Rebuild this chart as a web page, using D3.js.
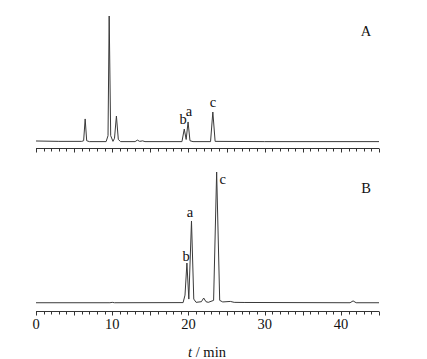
<!DOCTYPE html>
<html><head><meta charset="utf-8">
<script src="https://cdn.jsdelivr.net/npm/d3@7"></script>
<style>
html,body{margin:0;padding:0;background:#fff;}
svg{display:block;}
text{font-family:"Liberation Serif","Times New Roman",serif;fill:#111;}
</style></head>
<body>
<svg id="c" width="427" height="359"></svg>
<script>
// Trace A (time in min, relative signal)
const timeA = [0, 3, 6.0, 6.25, 6.45, 6.65, 7, 9.2, 9.45, 9.6, 9.8, 10.1, 10.3, 10.55, 10.8, 11.1, 13.0, 13.3, 13.6, 14.0, 14.3, 19.15, 19.45, 19.7, 19.95, 20.2, 20.6, 22.9, 23.2, 23.5, 30, 45];
const signalA = [0.8, 0.5, 0.5, 1, 18.3, 1, 0.3, 0.3, 5, 100, 5, 0.5, 3, 20.6, 2, 0.3, 0.3, 1.5, 0.5, 0.9, 0.3, 0.3, 10.3, 2, 15.9, 1, 0.3, 0.3, 23.8, 0.5, 0.3, 0.3];
// Trace B
const timeB = [0, 9.7, 10.0, 10.3, 19.3, 19.55, 19.8, 20.05, 20.4, 20.7, 21.0, 21.7, 22.0, 22.3, 22.6, 23.3, 23.7, 24.1, 24.5, 25.5, 26.0, 27.3, 41.2, 41.6, 42.0, 45];
const signalB = [0.2, 0.2, 0.5, 0.2, 0.3, 6, 30.5, 3, 62.6, 3, 0.5, 1, 3.8, 1, 0.5, 2, 100, 2, 0.8, 1.2, 0.5, 0.4, 0.2, 1.6, 0.2, 0.2];
// Peak labels (label anchor in data units: time, signal)
const peakLabelsA = [{t: 19.29, v: 13.9, s: "b"}, {t: 20.07, v: 21.0, s: "a"}, {t: 23.22, v: 27.4, s: "c"}];
const peakLabelsB = [{t: 19.68, v: 32.0, s: "b"}, {t: 20.2, v: 65.6, s: "a"}, {t: 24.5, v: 90.8, s: "c"}];
const panelLabels = ["A", "B"];
const tickLabels = [0, 10, 20, 30, 40];
const xDomain = [0, 45];
const xTitle = "min";

const svg = d3.select("#c");
const x = d3.scaleLinear().domain(xDomain).range([36, 379]);
const yA = d3.scaleLinear().domain([0, 100]).range([142, 16]);
const yB = d3.scaleLinear().domain([0, 100]).range([303, 172]);

function drawTrace(ts, vs, y) {
  const pts = ts.map((t, i) => [t, vs[i]]);
  svg.append("path").datum(pts)
    .attr("fill", "none").attr("stroke", "#3a3a3a").attr("stroke-width", 1)
    .attr("stroke-linejoin", "round")
    .attr("d", d3.line().x(d => x(d[0])).y(d => y(d[1])));
}
drawTrace(timeA, signalA, yA);
drawTrace(timeB, signalB, yB);

function drawAxis(yPos, labels) {
  const g = svg.append("g").attr("transform", `translate(0,${yPos})`);
  g.append("line").attr("x1", x(xDomain[0])).attr("x2", x(xDomain[1]))
    .attr("stroke", "#333").attr("stroke-width", 1);
  const ticks = d3.range(xDomain[0], xDomain[1] + 0.001, 1);
  g.selectAll("line.tk").data(ticks).enter().append("line").attr("class", "tk")
    .attr("x1", d => Math.round(x(d)) + 0.5).attr("x2", d => Math.round(x(d)) + 0.5)
    .attr("y1", 0).attr("y2", d => d % 5 === 0 ? 4 : 3)
    .attr("stroke", "#333").attr("stroke-width", 1);
  if (labels) {
    g.selectAll("text.tl").data(tickLabels).enter().append("text").attr("class", "tl")
      .attr("x", d => x(d)).attr("y", 17).attr("text-anchor", "middle")
      .attr("font-size", 14.5).text(d => d);
  }
}
drawAxis(148.5, false);
drawAxis(311.5, true);

function drawLabels(list, y) {
  svg.selectAll(null).data(list).enter().append("text")
    .attr("x", d => x(d.t)).attr("y", d => y(d.v))
    .attr("text-anchor", "middle").attr("font-size", 14.5).text(d => d.s);
}
drawLabels(peakLabelsA, yA);
drawLabels(peakLabelsB, yB);

svg.append("text").attr("x", 366).attr("y", 36).attr("text-anchor", "middle").attr("font-size", 14.5).text(panelLabels[0]);
svg.append("text").attr("x", 366).attr("y", 193).attr("text-anchor", "middle").attr("font-size", 14.5).text(panelLabels[1]);

const tt = svg.append("text").attr("x", 207).attr("y", 357).attr("text-anchor", "middle").attr("font-size", 14.5);
tt.append("tspan").attr("font-style", "italic").text("t");
tt.append("tspan").text(" / " + xTitle);
</script>
</body></html>
